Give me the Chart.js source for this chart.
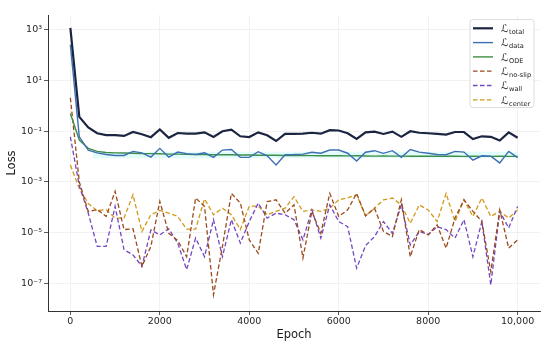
<!DOCTYPE html>
<html>
<head>
<meta charset="utf-8">
<script src="https://cdn.jsdelivr.net/npm/chart.js@4.4.1/dist/chart.umd.min.js"></script>
<style>
  html, body { margin: 0; padding: 0; background: #ffffff; }
  #wrap { position: relative; width: 550px; height: 349px; }
</style>
</head>
<body>
<div id="wrap"><canvas id="c" width="550" height="349"></canvas></div>
<script>
const epochs = [0,200,400,600,800,1000,1200,1400,1600,1800,2000,2200,2400,2600,2800,3000,3200,3400,3600,3800,4000,4200,4400,4600,4800,5000,5200,5400,5600,5800,6000,6200,6400,6600,6800,7000,7200,7400,7600,7800,8000,8200,8400,8600,8800,9000,9200,9400,9600,9800,10000];

const lossTotal = [1200,0.37,0.14,0.083,0.07,0.07,0.065,0.093,0.076,0.058,0.117,0.055,0.085,0.08,0.08,0.09,0.059,0.1,0.115,0.063,0.059,0.09,0.069,0.041,0.078,0.078,0.08,0.087,0.08,0.11,0.107,0.083,0.05,0.09,0.096,0.078,0.096,0.06,0.1,0.087,0.083,0.078,0.074,0.093,0.093,0.049,0.063,0.06,0.043,0.09,0.055];

const lossData = [260,0.06,0.018,0.014,0.012,0.011,0.011,0.016,0.014,0.0095,0.021,0.0095,0.015,0.013,0.012,0.014,0.0093,0.018,0.019,0.0093,0.0093,0.0155,0.0107,0.0046,0.0118,0.012,0.0125,0.0148,0.0135,0.018,0.018,0.0135,0.0066,0.0148,0.017,0.0134,0.017,0.0093,0.019,0.015,0.0134,0.012,0.0118,0.016,0.015,0.0072,0.0107,0.0103,0.0056,0.016,0.0091];

const lossODE = [0.5,0.045,0.021,0.016,0.0145,0.014,0.0138,0.0135,0.013,0.013,0.0128,0.0125,0.0125,0.0122,0.012,0.012,0.0118,0.0118,0.0117,0.0115,0.0115,0.0113,0.0114,0.0112,0.011,0.011,0.0111,0.0109,0.0108,0.0109,0.0107,0.0106,0.0107,0.0105,0.0104,0.0105,0.0104,0.0104,0.0103,0.0103,0.0102,0.0103,0.0102,0.0102,0.0101,0.0102,0.0101,0.0101,0.0102,0.0101,0.0101];

const lossNoSlip = [2.1,1e-3,6.7e-5,8e-5,4.3e-5,4.2e-4,1.3e-5,1.4e-5,4.6e-7,2.8e-6,1.7e-4,9.3e-6,4.8e-6,1.1e-6,2.3e-4,1.07e-4,3.5e-8,2.8e-6,3.5e-4,1.45e-4,5.1e-6,1.5e-6,1.66e-4,1.95e-4,5.8e-5,1.23e-4,9.8e-7,6.8e-5,9.3e-6,3.5e-4,4.3e-5,7.8e-5,3.5e-4,4.5e-5,9.1e-5,1.1e-5,6.9e-6,1.95e-4,1.1e-6,1.3e-5,8.1e-6,2e-5,2.4e-6,3.7e-5,1.95e-4,6.8e-5,2.7e-5,2.8e-7,7.8e-5,2.4e-6,5.1e-6];

const lossWall = [0.06,7e-4,5.8e-5,2.8e-6,2.8e-6,1.07e-4,2.1e-6,1.3e-6,4.6e-7,1.26e-5,8e-6,1.4e-5,3.8e-6,3.4e-7,6e-6,1.1e-6,3.2e-5,1.1e-6,3.2e-5,3.8e-6,2.7e-5,1.45e-4,3.7e-5,5.8e-5,5e-5,3.2e-5,5.1e-6,7.8e-5,6e-6,1.23e-4,2.7e-5,1.7e-5,3.9e-7,3e-6,6.9e-6,2.7e-5,9.3e-6,1.23e-4,3.2e-6,1.1e-5,8.1e-6,1.7e-5,1.3e-5,6e-6,3.2e-5,1.1e-6,2.7e-5,8.5e-8,6.8e-5,1.5e-5,1.07e-4];

const lossCenter = [4.6e-3,5.5e-4,1.4e-4,7.2e-5,8e-5,3.7e-5,3.7e-5,3.1e-4,1.1e-5,5e-5,7.4e-5,5.8e-5,4.3e-5,1.35e-5,1.35e-5,2.1e-4,5e-5,9.1e-5,5e-5,1.3e-5,1.1e-4,1.1e-4,5e-5,6.8e-5,9.1e-5,2.6e-4,6.8e-5,7.8e-5,6.8e-5,9.1e-5,1.95e-4,2.3e-4,3.1e-4,4.5e-5,9.1e-5,1.95e-4,2.3e-4,1.23e-4,2.3e-5,1.23e-4,7.8e-5,2.7e-5,3.5e-4,2.7e-5,1.95e-4,4.3e-5,2.3e-4,4.3e-5,6.8e-5,3.7e-5,7.8e-5];

// faint shaded band around the ODE loss
const bandEpochs = [500,10000];
const bandHigh = [0.0155,0.0155];
const bandLow = [0.0086,0.0086];

const seriesSubscripts = ['total','data','ODE','no-slip','wall','center'];
const seriesColors = ['#1b2440','#3d6fb5','#3e8e47','#9a4a1c','#7448c0','#d19a1c'];
const seriesDashed = [false,false,false,true,true,true];
const seriesWidths = [2.2,1.4,1.4,1.3,1.3,1.3];
const seriesValues = [lossTotal,lossData,lossODE,lossNoSlip,lossWall,lossCenter];

const xTicks = [0,2000,4000,6000,8000,10000];
const xTickLabels = ['0','2000','4000','6000','8000','10,000'];
const yTicks = [1e3,1e1,1e-1,1e-3,1e-5,1e-7];
const yTickLabels = ['10\u00B3','10\u00B9','10\u207B\u00B9','10\u207B\u00B3','10\u207B\u2075','10\u207B\u2077'];

const toXY = (xs, ys) => xs.map((x, i) => ({x: x, y: ys[i]}));

const datasets = seriesValues.map((vals, i) => ({
  label: 'L' + seriesSubscripts[i],
  data: toXY(epochs, vals),
  borderColor: seriesColors[i],
  backgroundColor: seriesColors[i],
  borderWidth: seriesWidths[i],
  borderDash: seriesDashed[i] ? [4.5, 2.5] : [],
  pointRadius: 0,
  tension: 0,
  fill: false
}));
datasets.push({
  label: 'bandHigh', data: toXY(bandEpochs, bandHigh),
  borderWidth: 0, borderColor: 'rgba(0,0,0,0)', pointRadius: 0,
  backgroundColor: 'rgba(214,249,249,0.7)', fill: '+1'
});
datasets.push({
  label: 'bandLow', data: toXY(bandEpochs, bandLow),
  borderWidth: 0, borderColor: 'rgba(0,0,0,0)', pointRadius: 0, fill: false
});

const mathLegend = {
  id: 'mathLegend',
  afterDraw(chart) {
    const ctx = chart.ctx, a = chart.chartArea;
    const boxW = 64, boxH = 88, rowH = 14.3;
    const x0 = a.right - 6 - boxW, y0 = a.top + 4.5;
    ctx.save();
    ctx.beginPath();
    if (ctx.roundRect) ctx.roundRect(x0, y0, boxW, boxH, 3); else ctx.rect(x0, y0, boxW, boxH);
    ctx.fillStyle = 'rgba(255,255,255,0.85)';
    ctx.fill();
    ctx.strokeStyle = '#d4d4d4';
    ctx.lineWidth = 0.8;
    ctx.stroke();
    for (let i = 0; i < seriesSubscripts.length; i++) {
      const cy = y0 + 8.8 + i * rowH;
      ctx.beginPath();
      ctx.setLineDash(seriesDashed[i] ? [4.5, 2.5] : []);
      ctx.strokeStyle = seriesColors[i];
      ctx.lineWidth = seriesWidths[i];
      ctx.moveTo(x0 + 3, cy);
      ctx.lineTo(x0 + 23, cy);
      ctx.stroke();
      ctx.setLineDash([]);
      ctx.fillStyle = '#1a1a1a';
      ctx.textBaseline = 'alphabetic';
      ctx.textAlign = 'left';
      ctx.font = '10.5px "DejaVu Serif", "DejaVu Sans", serif';
      ctx.fillText('\u2112', x0 + 31, cy + 3.8);
      const w = ctx.measureText('\u2112').width;
      ctx.font = '6.6px "DejaVu Sans", sans-serif';
      ctx.fillText(seriesSubscripts[i], x0 + 31 + w + 0.5, cy + 5.8);
    }
    ctx.restore();
  }
};

const tickFont = {family: '"DejaVu Sans", sans-serif', size: 9.5};
const titleFont = {family: '"DejaVu Sans", sans-serif', size: 11.5};

new Chart(document.getElementById('c'), {
  type: 'line',
  data: {datasets: datasets},
  plugins: [mathLegend],
  options: {
    responsive: false,
    animation: false,
    devicePixelRatio: 1,
    layout: {padding: {top: 15, right: 10, left: 0, bottom: 0}},
    plugins: {legend: {display: false}, tooltip: {enabled: false}},
    scales: {
      x: {
        type: 'linear',
        min: -500, max: 10500,
        afterBuildTicks: (s) => { s.ticks = xTicks.map(v => ({value: v})); },
        afterFit: (s) => { s.height = 38; },
        ticks: {
          font: tickFont, color: '#262626', padding: 1, maxRotation: 0,
          callback: (v, i) => xTickLabels[xTicks.indexOf(v)]
        },
        grid: {color: '#ededed', lineWidth: 0.8, tickLength: 4, tickColor: '#333', tickWidth: 0.8},
        border: {display: true, color: '#333', width: 1},
        title: {display: true, text: 'Epoch', font: titleFont, color: '#1a1a1a', padding: {top: 0, bottom: 7}}
      },
      y: {
        type: 'logarithmic',
        min: 7.9e-9, max: 3.9e3,
        afterBuildTicks: (s) => { s.ticks = yTicks.map(v => ({value: v, major: true})); },
        afterFit: (s) => { s.width = 48; },
        ticks: {
          font: tickFont, color: '#262626', padding: 2,
          callback: (v) => { const k = yTicks.findIndex(t => Math.abs(Math.log10(t) - Math.log10(v)) < 1e-6); return k >= 0 ? yTickLabels[k] : ''; }
        },
        grid: {color: '#ededed', lineWidth: 0.8, tickLength: 4, tickColor: '#333', tickWidth: 0.8},
        border: {display: true, color: '#333', width: 1},
        title: {display: true, text: 'Loss', font: titleFont, color: '#1a1a1a', padding: {top: 5, bottom: 0}}
      }
    }
  }
});
</script>
</body>
</html>
